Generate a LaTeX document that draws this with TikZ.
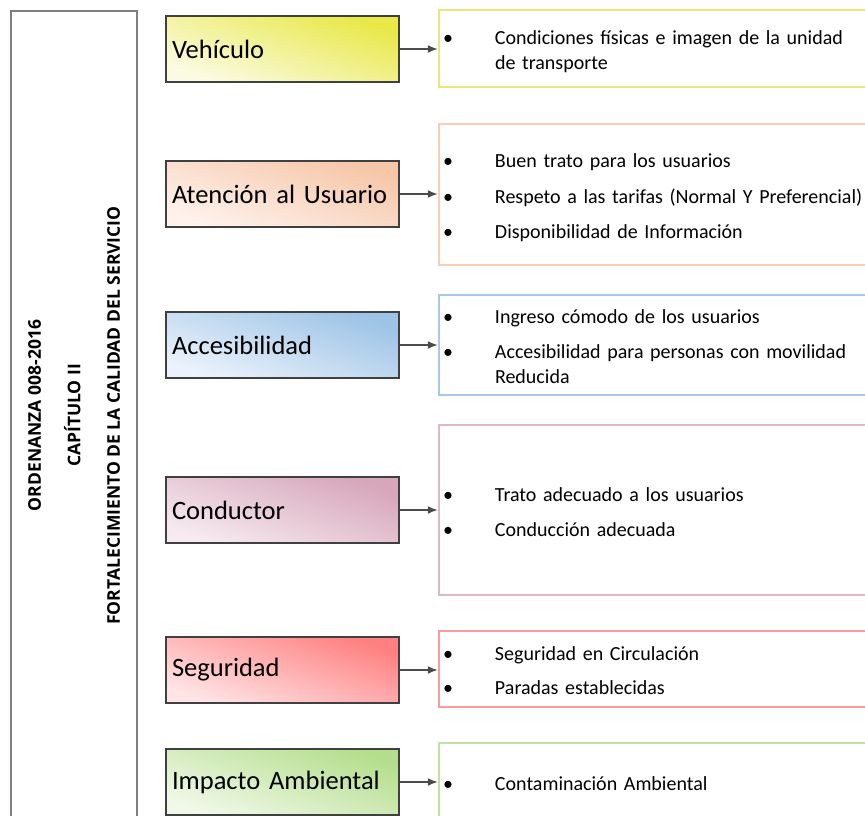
\documentclass[tikz,border=0pt]{standalone}
\usepackage{fontspec}
\setmainfont{Carlito}
\newfontfamily\titulofont{Open Sans}
\usetikzlibrary{arrows.meta}

\definecolor{vehdark}{RGB}{232,232,72}
\definecolor{vehlight}{RGB}{251,251,228}
\definecolor{vehline}{RGB}{232,232,120}
\definecolor{atedark}{RGB}{246,198,168}
\definecolor{atelight}{RGB}{254,242,236}
\definecolor{ateline}{RGB}{249,206,180}
\definecolor{accdark}{RGB}{157,195,230}
\definecolor{acclight}{RGB}{234,242,251}
\definecolor{accline}{RGB}{168,200,234}
\definecolor{condark}{RGB}{214,166,186}
\definecolor{conlight}{RGB}{246,234,240}
\definecolor{conline}{RGB}{222,184,200}
\definecolor{segdark}{RGB}{255,128,128}
\definecolor{seglight}{RGB}{255,228,230}
\definecolor{segline}{RGB}{255,154,154}
\definecolor{impdark}{RGB}{180,222,140}
\definecolor{implight}{RGB}{240,248,232}
\definecolor{impline}{RGB}{195,224,165}

\newcommand{\itm}[1]{\makebox[52pt][l]{\textbullet}#1}
\newcommand{\arriba}{\rule{0pt}{24pt}}
\newcommand{\abajo}{\rule[-7pt]{0pt}{7pt}}

\begin{document}
\begin{tikzpicture}[x=1pt, y=-1pt, >={Latex[length=10pt, width=8pt]},
    catbox/.style 2 args={draw=black!75, line width=1.2pt, top color=#1, bottom color=#2, shading angle=-20,
        minimum width=233pt, minimum height=66pt, text width=221pt, inner xsep=6pt, align=left,
        font=\fontsize{26.5}{30}\selectfont},
    listbox/.style={draw=#1, line width=2.5pt, minimum width=442pt, text width=434pt, inner xsep=4pt,
        align=left, font=\fontsize{20}{25}\selectfont},
    marco/.style={draw=black!50, line width=1.4pt, minimum width=809pt, minimum height=126pt, align=center,
        font=\titulofont\bfseries\fontsize{17.5}{39.5}\selectfont},
    conector/.style={->, black!70, line width=1.4pt}]
    \useasboundingbox (0,0) rectangle (865,816);
    \clip (0,0) rectangle (865,816);

    % Define title frame
    \node[marco, rotate=90] (ordenanza) at (74, 415.5) {ORDENANZA 008-2016\\CAPÍTULO II\\FORTALECIMIENTO DE LA CALIDAD DEL SERVICIO};

    % Define categories
    \node[catbox={vehdark}{vehlight}] (veh) at (282.5, 49) {Vehículo};
    \node[catbox={atedark}{atelight}] (ate) at (282.5, 194) {Atención al Usuario};
    \node[catbox={accdark}{acclight}] (acc) at (282.5, 345) {Accesibilidad};
    \node[catbox={condark}{conlight}] (con) at (282.5, 510) {Conductor};
    \node[catbox={segdark}{seglight}] (seg) at (282.5, 670) {Seguridad};
    \node[catbox={impdark}{implight}] (imp) at (282.5, 782) {Impacto Ambiental};

    % Define item lists
    \node[listbox=vehline, minimum height=77pt] (vehlist) at (660, 48.5)
        {\arriba\itm{Condiciones físicas e imagen de la unidad}\\\hspace*{52pt}de transporte\abajo};
    \node[listbox=ateline, minimum height=141pt] (atelist) at (660, 194.5)
        {\arriba\itm{Buen trato para los usuarios}\\[10.5pt]\itm{Respeto a las tarifas (Normal Y Preferencial)}\\[10.5pt]\itm{Disponibilidad de Información}\abajo};
    \node[listbox=accline, minimum height=100pt] (acclist) at (660, 345)
        {\arriba\itm{Ingreso cómodo de los usuarios}\\[10pt]\itm{Accesibilidad para personas con movilidad}\\\hspace*{52pt}Reducida\abajo};
    \node[listbox=conline, minimum height=170pt] (conlist) at (660, 510)
        {\arriba\itm{Trato adecuado a los usuarios}\\[10pt]\itm{Conducción adecuada}\abajo};
    \node[listbox=segline, minimum height=76pt] (seglist) at (660, 669)
        {\arriba\itm{Seguridad en Circulación}\\[9pt]\itm{Paradas establecidas}\abajo};
    \node[listbox=impline, minimum height=78pt] (implist) at (660, 782)
        {\arriba\itm{Contaminación Ambiental}\abajo};

    % Draw connectors
    \draw[conector] (veh.east) -- (veh.east -| vehlist.west);
    \draw[conector] (ate.east) -- (ate.east -| atelist.west);
    \draw[conector] (acc.east) -- (acc.east -| acclist.west);
    \draw[conector] (con.east) -- (con.east -| conlist.west);
    \draw[conector] (seg.east) -- (seg.east -| seglist.west);
    \draw[conector] (imp.east) -- (imp.east -| implist.west);
\end{tikzpicture}
\end{document}
